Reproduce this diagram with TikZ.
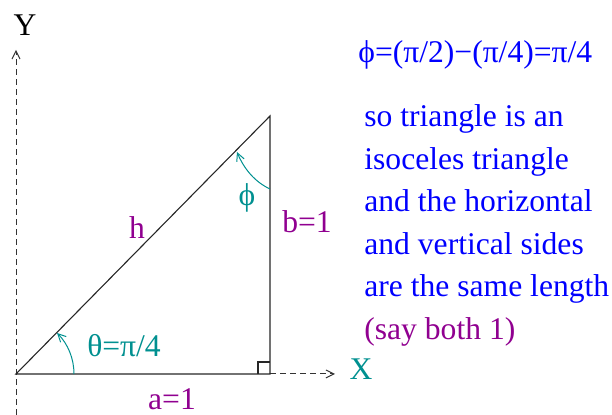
\documentclass[tikz,border=0pt]{standalone}
\usepackage{fontspec}
\setmainfont{Liberation Serif}
\usetikzlibrary{arrows.meta}
\definecolor{trigblue}{RGB}{0,0,255}
\definecolor{trigteal}{RGB}{0,144,144}
\definecolor{trigpurple}{RGB}{144,0,144}
\tikzset{
  trigbase/.style={x=0.5pt,y=0.5pt,font=\fontsize{15.8}{19}\selectfont, line cap=butt, line join=miter},
  trigside/.style={draw=black!85,line width=0.55pt},
  trigaxis/.style={draw=black!80,line width=0.5pt,dash pattern=on 3pt off 2pt,-{Straight Barb[length=4pt,width=4pt]}},
  trigangle/.style={draw=trigteal,line width=0.5pt,-{Straight Barb[length=4pt,width=4pt]}},
  triglbl/.style={inner sep=0pt},
  trignote/.style={inner sep=0pt,anchor=base west,text=trigblue}
}

\begin{document}
\begin{tikzpicture}[trigbase]
\useasboundingbox (0,0) rectangle (612,415);
\coordinate (O) at (16,41);
\coordinate (A) at (270,41);
\coordinate (B) at (270,299);
\coordinate (Ybot) at (16,0);
\coordinate (Ytop) at (16,365);
\coordinate (Xend) at (335,41);
\coordinate (Pstart) at (270,226);
\coordinate (Pend) at (237,263);
% axes
\draw[trigaxis] (Ybot)--(Ytop);
\draw[trigaxis] (A)--(Xend);
% triangle
\draw[trigside] (O)--(A)--(B)--cycle;
\draw[trigside] (258,41)--(258,53)--(270,53);
% angles
\draw[trigangle] (74,41) arc[start angle=0,end angle=45,radius=58];
\draw[trigangle] (Pstart) .. controls (255,233) and (244,246) .. (Pend);
% labels
\node[triglbl] (ylbl) at (25,390) {Y};
\node[triglbl,text=trigteal] (xlbl) at (361,46) {X};
\node[triglbl,text=trigpurple] (hlbl) at (137,187) {h};
\node[triglbl,text=trigteal] (thlbl) at (124,69) {θ=π/4};
\node[triglbl,text=trigteal] (phlbl) at (247,217) {ϕ};
\node[triglbl,text=trigpurple] (blbl) at (307,193) {b=1};
\node[triglbl,text=trigpurple,anchor=base] (albl) at (172,5) {a=1};
% explanation
\node[trignote] (title) at (358,352) {ϕ=(π/2)−(π/4)=π/4};
\node[trignote] (line1) at (364,288) {so triangle is an};
\node[trignote] (line2) at (364,245.5) {isoceles triangle};
\node[trignote] (line3) at (364,203) {and the horizontal};
\node[trignote] (line4) at (364,160.5) {and vertical sides};
\node[trignote] (line5) at (364,118) {are the same length};
\node[trignote,text=trigpurple] (line6) at (364,75.5) {(say both 1)};
\end{tikzpicture}
\end{document}
